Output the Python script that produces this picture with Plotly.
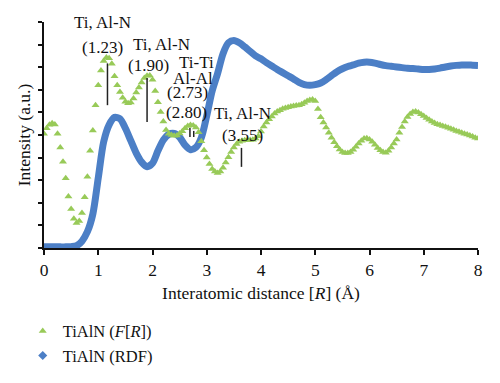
import plotly.graph_objects as go

# ---------------- data ----------------
# F[R] sampled every 0.05 Å from 0 to 8 Å
fr_step = 0.05
fr_values = [
    5.05, 5.3, 5.45, 5.52, 5.47, 5.05, 4.45, 3.82, 3.09, 2.28, 1.73, 1.29, 1.11, 1.2, 1.55, 2.25, 3.15, 4.3, 5.2, 6.32,
    7.2, 7.85, 8.27, 8.43, 8.4, 8.15, 7.6, 7.2, 6.9, 6.65, 6.47, 6.4, 6.44, 6.62, 6.88, 7.1, 7.32, 7.52, 7.62, 7.63,
    7.45, 6.95, 6.45, 6.02, 5.6, 5.22, 5.05, 5.0, 4.97, 4.98, 5.07, 5.17, 5.3, 5.4, 5.44, 5.42, 5.33, 5.12, 4.72, 4.33,
    4.0, 3.72, 3.5, 3.38, 3.32, 3.38, 3.55, 3.78, 4.02, 4.25, 4.45, 4.6, 4.7, 4.75, 4.77, 4.78, 4.78, 4.79, 4.84, 4.95,
    5.15, 5.38, 5.55, 5.7, 5.82, 5.95, 6.04, 6.1, 6.16, 6.2, 6.23, 6.26, 6.28, 6.3, 6.32, 6.36, 6.43, 6.5, 6.55, 6.57,
    6.5, 6.15, 5.78, 5.55, 5.33, 5.1, 4.88, 4.68, 4.5, 4.36, 4.25, 4.2, 4.2, 4.25, 4.35, 4.48, 4.62, 4.75, 4.84, 4.86,
    4.8, 4.7, 4.57, 4.43, 4.32, 4.25, 4.22, 4.3, 4.45, 4.62, 4.8, 5.1, 5.35, 5.6, 5.8, 5.93, 6.02, 6.04, 6.0, 5.92,
    5.84, 5.75, 5.67, 5.6, 5.53, 5.48, 5.44, 5.4, 5.36, 5.32, 5.28, 5.23, 5.18, 5.14, 5.1, 5.06, 5.02, 4.98, 4.93, 4.88,
    4.85,
]
fr_r = [round(i * fr_step, 3) for i in range(len(fr_values))]

# RDF sampled every 0.1 Å from 0 to 8 Å
rdf_step = 0.1
rdf_values = [
    0.05, 0.05, 0.05, 0.05, 0.05, 0.06, 0.1, 0.3, 0.72, 1.5,
    3.1, 4.7, 5.45, 5.78, 5.72, 5.3, 4.75, 4.2, 3.8, 3.6,
    3.75, 4.3, 4.78, 5.03, 5.07, 4.9, 4.55, 4.35, 4.45, 4.88,
    5.85, 6.95, 7.72, 8.6, 9.08, 9.18, 9.08, 8.9, 8.7, 8.5,
    8.37, 8.2, 8.05, 7.9, 7.76, 7.62, 7.48, 7.33, 7.23, 7.2,
    7.23, 7.3, 7.45, 7.63, 7.8, 7.93, 8.03, 8.1, 8.18, 8.22,
    8.22, 8.18, 8.12, 8.07, 8.04, 8.01, 7.98, 7.95, 7.94, 7.92,
    7.9, 7.9, 7.92, 7.96, 8.01, 8.05, 8.08, 8.1, 8.1, 8.09,
    8.08,
]
rdf_r = [round(i * rdf_step, 3) for i in range(len(rdf_values))]

x_ticks = [0, 1, 2, 3, 4, 5, 6, 7, 8]

# peak annotations
label_texts = ["Ti, Al-N", "(1.23)", "Ti, Al-N", "(1.90)", "Ti-Ti", "Al-Al", "(2.73)", "(2.80)", "Ti, Al-N", "(3.55)"]
label_x = [1.086, 1.08, 2.17, 1.92, 2.82, 2.74, 2.65, 2.63, 3.66, 3.66]
label_y = [9.99, 8.88, 9.02, 8.09, 8.2, 7.5, 6.9, 5.99, 5.97, 5.0]
marker_x = [1.17, 1.90, 2.69, 2.76, 3.64]
marker_y0 = [6.32, 5.57, 4.91, 4.91, 3.59]
marker_y1 = [8.17, 7.52, 5.31, 5.18, 4.43]

BLUE = "#4c7fc6"
GREEN = "#98ca58"
FONT = "Liberation Serif"
FS = 17.5
FS_LABEL = 17

fig = go.Figure()
fig.add_trace(go.Scatter(
    x=rdf_r, y=rdf_values, mode="lines",
    line=dict(color=BLUE, width=7, shape="spline", smoothing=0.8),
    showlegend=False, hoverinfo="skip",
))
fig.add_trace(go.Scatter(
    x=fr_r, y=fr_values, mode="markers",
    marker=dict(symbol="triangle-up", size=7, color=GREEN),
    name="TiAlN (<i>F</i>[<i>R</i>])",
))
fig.add_trace(go.Scatter(
    x=[None], y=[None], mode="markers",
    marker=dict(symbol="diamond", size=7, color=BLUE),
    name="TiAlN (RDF)",
))

for xm, y0, y1 in zip(marker_x, marker_y0, marker_y1):
    fig.add_shape(type="line", xref="x", yref="y", x0=xm, x1=xm, y0=y0, y1=y1,
                  line=dict(color="#222222", width=1.5))

for t, xl, yl in zip(label_texts, label_x, label_y):
    fig.add_annotation(x=xl, y=yl, xref="x", yref="y", text=t, showarrow=False,
                       xanchor="center", yanchor="middle",
                       font=dict(family=FONT, size=FS_LABEL, color="#111111"))

# the page body has an 8 px margin, so the figure is 8 px smaller and margins shifted
fig.update_layout(
    width=492, height=375,
    margin=dict(l=36, r=22, t=14, b=135, autoexpand=False),
    paper_bgcolor="white", plot_bgcolor="white",
    font=dict(family=FONT, size=FS, color="#111111"),
    legend=dict(x=-0.049, y=-0.291, xanchor="left", yanchor="top",
                font=dict(family=FONT, size=16.5), tracegroupgap=0,
                bgcolor="rgba(0,0,0,0)"),
    xaxis=dict(range=[0, 8], tickvals=x_ticks, showline=True, linecolor="#111111", linewidth=1.5,
               ticks="outside", ticklen=5, tickcolor="#111111", tickwidth=1.5,
               showgrid=False, zeroline=False, automargin=False,
               tickfont=dict(family=FONT, size=FS),
               title=dict(text="Interatomic distance [<i>R</i>] (Å)", standoff=8,
                          font=dict(family=FONT, size=FS))),
    yaxis=dict(range=[0, 10], dtick=1, showline=True, linecolor="#111111", linewidth=1.5,
               ticks="outside", ticklen=4, tickcolor="#111111", tickwidth=1.5,
               showticklabels=False, showgrid=False, zeroline=False, automargin=False,
               title=dict(text="Intensity (a.u.)", standoff=3,
                          font=dict(family=FONT, size=FS))),
)

fig.write_html("out.html")
